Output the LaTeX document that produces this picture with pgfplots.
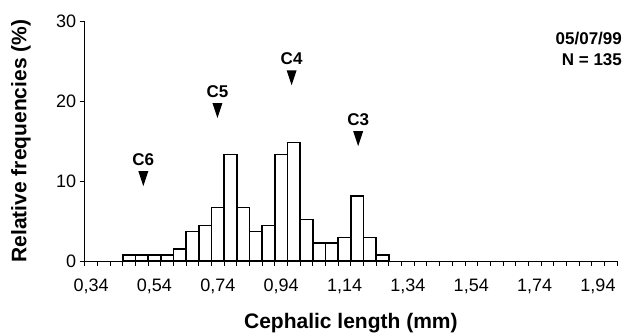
\documentclass[border=0pt]{standalone}
\usepackage{pgfplots}
\pgfplotsset{compat=1.18}
\usepackage{fontspec}
\setmainfont{Liberation Sans}

% downward-pointing arrow head used to mark the instar modes
\pgfdeclareplotmark{dtri}{%
  \pgfpathmoveto{\pgfqpoint{-5pt}{7.5pt}}%
  \pgfpathlineto{\pgfqpoint{5pt}{7.5pt}}%
  \pgfpathlineto{\pgfqpoint{0pt}{-7.5pt}}%
  \pgfpathclose\pgfusepathqfill}

\pgfplotstableread{
x    y
0.46 0.74
0.50 0.74
0.54 0.74
0.58 0.74
0.62 1.48
0.66 3.70
0.70 4.44
0.74 6.67
0.78 13.33
0.82 6.67
0.86 3.70
0.90 4.44
0.94 13.33
0.98 14.81
1.02 5.19
1.06 2.22
1.10 2.22
1.14 2.96
1.18 8.15
1.22 2.96
1.26 0.74
}\freqtable

\pgfplotstableread{
x     y     label
0.505 10.3  C6
0.739 18.8  C5
0.973 22.9  C4
1.183 15.3  C3
}\modetable

\begin{document}
\begin{tikzpicture}
\path[use as bounding box] (-84.7pt,-75pt) rectangle (551.3pt,261pt);
\begin{axis}[
  at={(0,0)}, anchor=south west,
  scale only axis, width=532.3pt, height=240pt,
  xmin=0.32, xmax=2.00, ymin=0, ymax=30,
  axis x line=bottom, axis y line=left,
  axis line style={-, line width=0.8pt},
  clip=false,
  xtick={0.32,0.36,...,2.01}, xticklabel={\mbox{}},
  extra x ticks={0.34,0.54,0.74,0.94,1.14,1.34,1.54,1.74,1.94},
  extra x tick labels={{0,34},{0,54},{0,74},{0,94},{1,14},{1,34},{1,54},{1,74},{1,94}},
  extra x tick style={major tick length=0pt},
  ytick={0,10,20,30},
  tick align=outside, major tick length=5pt,
  tick style={black, line width=0.8pt},
  /pgf/number format/assume math mode=true,
  xticklabel style={font=\fontsize{18}{20}\selectfont, anchor=base, yshift=-31pt},
  yticklabel style={font=\fontsize{18}{20}\selectfont},
  xlabel={Cephalic length (mm)},
  ylabel={Relative frequencies (\%)},
  xlabel style={font=\fontsize{21}{23}\selectfont\bfseries, at={(axis description cs:0.5,0)}, anchor=base, yshift=-68pt},
  ylabel style={font=\fontsize{21}{23}\selectfont\bfseries, at={(axis description cs:-0.12,0.5)}, anchor=center},
]
\addplot[ybar, bar width=0.04, fill=white, draw=black, line width=1.6pt] table[x=x, y=y] {\freqtable};
\addplot[only marks, mark=dtri, black, nodes near coords, point meta=explicit symbolic,
  every node near coord/.append style={font=\fontsize{17}{19}\selectfont\bfseries, anchor=base, yshift=13pt, inner sep=0pt}]
  table[x=x, y=y, meta=label] {\modetable};
\node[anchor=base east, inner sep=0pt, font=\fontsize{17}{19}\selectfont\bfseries] at (axis cs:2.016,27.0) {05/07/99};
\node[anchor=base east, inner sep=0pt, font=\fontsize{17}{19}\selectfont\bfseries] at (axis cs:2.016,24.4) {N = 135};
\end{axis}
\end{tikzpicture}
\end{document}
